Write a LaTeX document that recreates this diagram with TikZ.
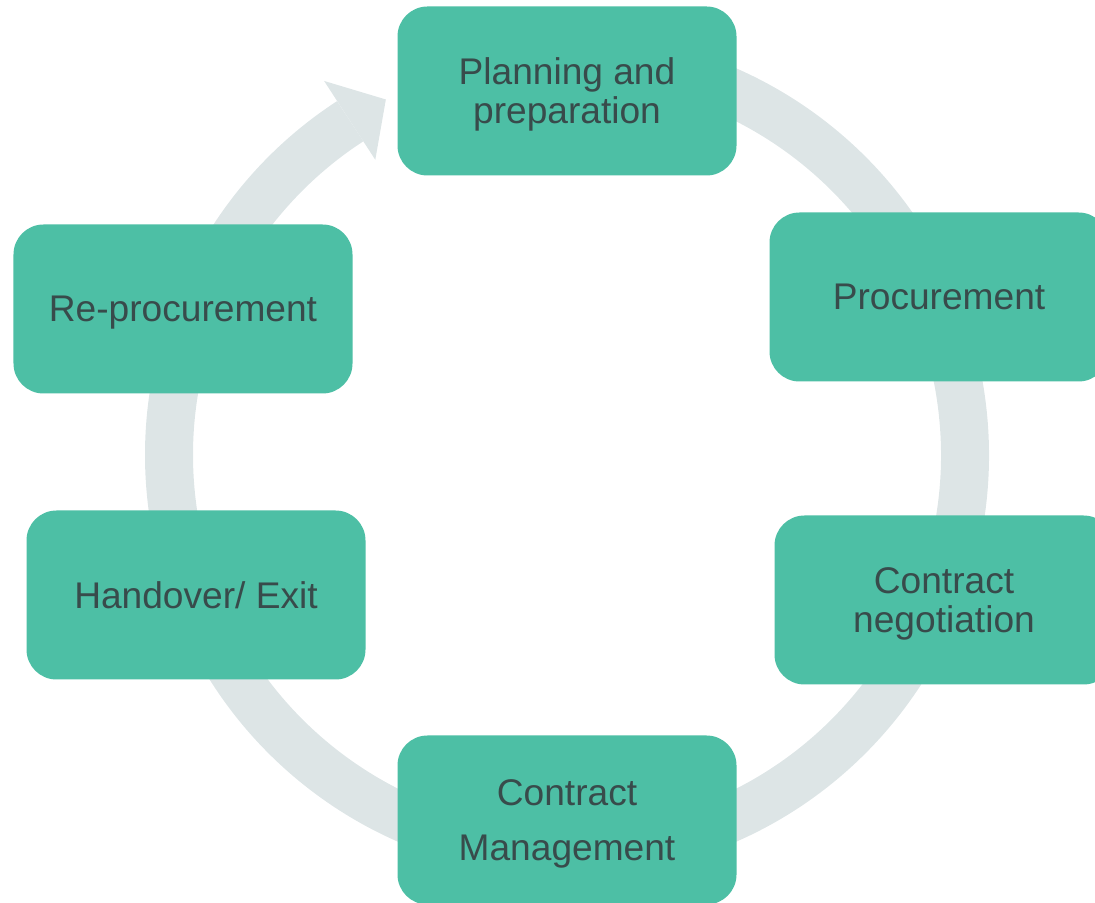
\documentclass[tikz,border=0pt]{standalone}
\usepackage{fontspec}
\setmainfont{Liberation Sans}
\usepackage{tikz}
\usetikzlibrary{calc}
\definecolor{stagefill}{HTML}{4DBFA5}
\definecolor{stagetext}{HTML}{384B4B}
\definecolor{ringgrey}{HTML}{DDE5E6}

\begin{document}
\begin{tikzpicture}[
  stage/.style = {fill=stagefill, text=stagetext, rounded corners=0.75cm,
    minimum width=8.475cm, minimum height=4.225cm, align=center, text depth=0pt,
    font=\fontsize{26.4}{27.7}\selectfont},
  ring/.style = {draw=ringgrey, line width=1.2cm}]
\useasboundingbox (0,0) rectangle (27.375,22.55);
\coordinate (mid) at (14.175,11.175);
\draw [ring] ($(mid)+(95:9.95)$) arc [start angle=95, end angle=-237, radius=9.95];
\fill [ringgrey] ($(mid)+(123:8.8)$) -- ($(mid)+(117:9.975)$) -- ($(mid)+(123:11.15)$) -- cycle;
\node [stage] (plan) at (14.175,20.275) {Planning and\\preparation};
\node [stage] (proc) at (23.475,15.125) {Procurement};
\node [stage] (nego) at (23.6,7.55) {Contract\\negotiation};
\node [stage] (manage) at (14.175,2.05) {Contract\\[11pt]Management};
\node [stage] (exit) at (4.9,7.675) {Handover/ Exit};
\node [stage] (reproc) at (4.575,14.825) {Re-procurement};
\end{tikzpicture}
\end{document}
